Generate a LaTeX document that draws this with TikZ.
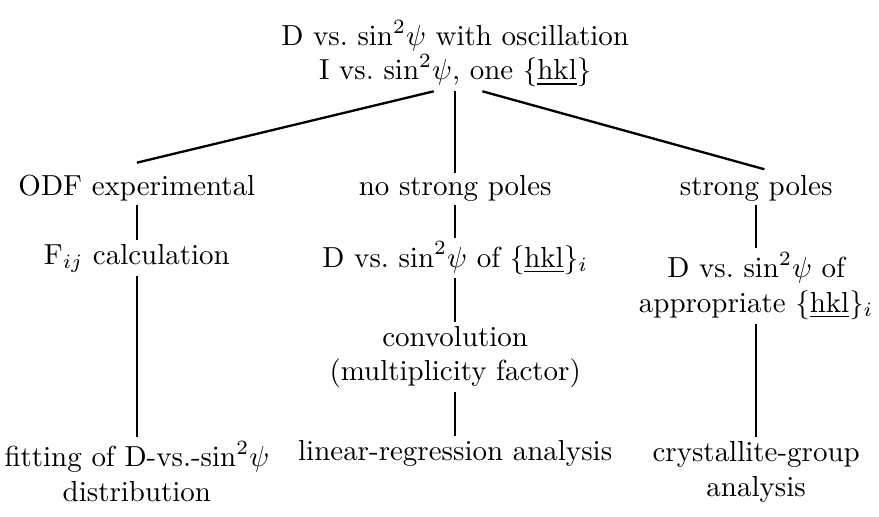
\documentclass[tikz,border=0pt]{standalone}
\usepackage{amsmath, amssymb}
\usepackage{tikz}
\usetikzlibrary{positioning, calc}

\newcommand{\dsin}{D vs.\ $\sin^2\!\psi$}
\newcommand{\hkl}{\{\underline{hkl}\}}

\begin{document}
\begin{tikzpicture}[
    label/.style={align=center, inner sep=1.2pt},
    branch/.style={line width=0.8pt}
]
\useasboundingbox (0,0) rectangle (10.66,6.26);

% Root
\node[label] (root) at (5.52, 5.61) {\dsin{} with oscillation\\ I vs.\ $\sin^2\!\psi$, one \hkl};

% Second level
\node[label] (odf) at (1.66, 3.98) {ODF experimental};
\node[label] (nopoles) at (5.52, 3.98) {no strong poles};
\node[label] (poles) at (9.17, 3.98) {strong poles};

% Third level
\node[label] (fij) at (1.66, 3.13) {F$_{ij}$ calculation};
\node[label] (dhkl) at (5.52, 3.13) {\dsin{} of \hkl$_i$};
\node[label] (dapp) at (9.17, 2.79) {\dsin{} of\\ appropriate \hkl$_i$};
\node[label] (conv) at (5.52, 1.93) {convolution\\ (multiplicity factor)};

% Results
\node[label] (fit) at (1.66, 0.54) {fitting of D-vs.-$\sin^2\!\psi$\\ distribution};
\node[label] (linreg) at (5.52, 0.76) {linear-regression analysis};
\node[label] (cgroup) at (9.17, 0.54) {crystallite-group\\ analysis};

% Branches
\draw[branch] ([xshift=-0.26cm]root.south) -- ([yshift=0.1cm]odf.north);
\draw[branch] (root.south) -- ([yshift=-0.03cm]nopoles.north);
\draw[branch] ([xshift=0.33cm]root.south) -- ([xshift=0.1cm, yshift=0.02cm]poles.north);
\draw[branch] (odf) -- (fij);
\draw[branch] (fij) -- (fit);
\draw[branch] (nopoles) -- (dhkl);
\draw[branch] (dhkl) -- (conv);
\draw[branch] (conv) -- (linreg);
\draw[branch] (poles) -- (dapp);
\draw[branch] (dapp) -- (cgroup);

\end{tikzpicture}
\end{document}
